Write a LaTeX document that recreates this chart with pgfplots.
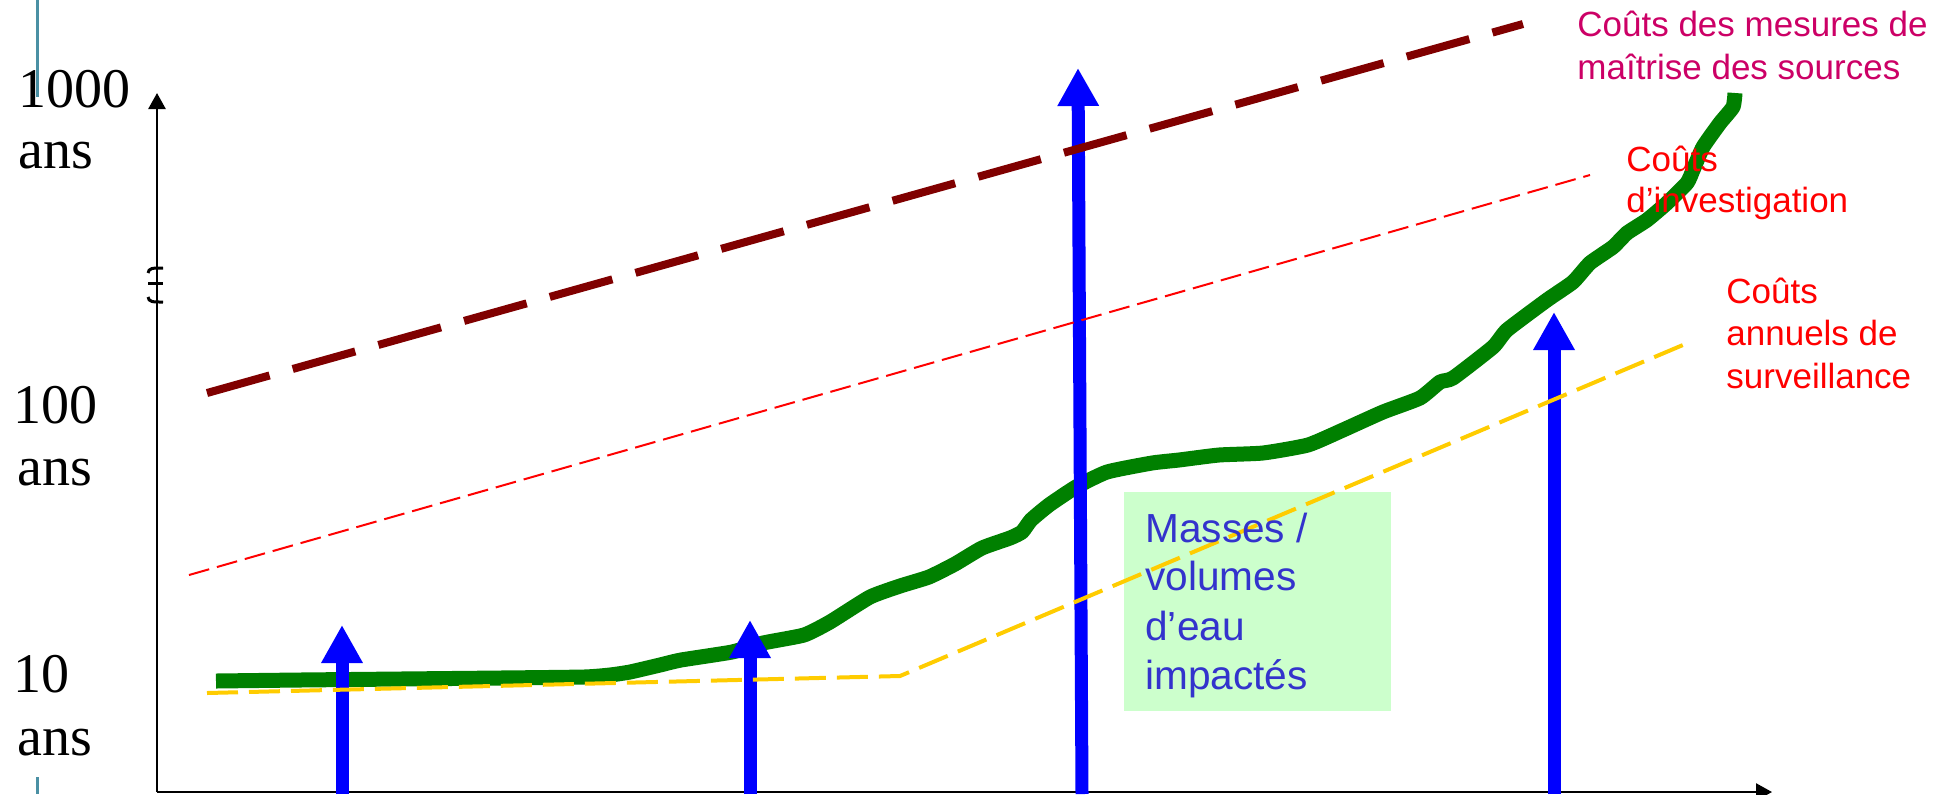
\documentclass[border=0pt]{standalone}
\usepackage{pgfplots}
\pgfplotsset{compat=1.18}
\usepackage{fontspec}
\setmainfont{Liberation Serif}
\newfontfamily\arial{Liberation Sans}
\usetikzlibrary{arrows.meta}

\definecolor{srcbrown}{HTML}{800000}
\definecolor{invred}{HTML}{FF0000}
\definecolor{survgold}{HTML}{FFCC00}
\definecolor{plumegreen}{HTML}{008000}
\definecolor{arrowblue}{HTML}{0000FF}
\definecolor{boxgreen}{HTML}{CCFFCC}
\definecolor{boxtext}{HTML}{3333CC}
\definecolor{srctext}{HTML}{CC0066}
\definecolor{tealmark}{HTML}{4A90A4}

\begin{document}
\begin{tikzpicture}
\begin{axis}[
  scale only axis,
  width=976.5pt, height=397pt,
  xmin=0, xmax=1953, ymin=0, ymax=794,
  y dir=reverse,
  hide axis,
  clip=false,
]
\coordinate (bl) at (axis cs:0,794);
\coordinate (tr) at (axis cs:1953,0);

% text box behind the curves
\fill[boxgreen] (axis cs:1124,492) rectangle (axis cs:1391,711);

% thin side marks
\addplot[tealmark, line width=1.5pt] coordinates {(37,0) (37,97)};
\addplot[tealmark, line width=1.5pt] coordinates {(37,777) (37,794)};

% axes
\addplot[black, line width=1.25pt, -{Triangle[width=8.5pt,length=8pt]}] coordinates {(157,792) (157,93)};
\addplot[black, line width=1.25pt, -{Triangle[width=8.5pt,length=8pt]}] coordinates {(157,792) (1772,792)};
% axis break
\draw[black, line width=1.5pt] (axis cs:148,273) .. controls (axis cs:149,268) and (axis cs:152,268) .. (axis cs:163,268);
\draw[black, line width=1.5pt] (axis cs:148,283) -- (axis cs:163,283);
\draw[black, line width=1.5pt] (axis cs:148,297) .. controls (axis cs:149,302) and (axis cs:152,302) .. (axis cs:163,302);

% remediation time curve
\addplot[plumegreen, line width=7.5pt, line join=round, smooth, tension=0.3] coordinates {
(216,681) (300,680) (400,679) (500,678) (584,677) (610,675) (630,672) (660,665)
(681,660) (732,652) (763,643) (804,635) (830,622) (870,597) (900,586) (929,577)
(955,564) (982,548) (1010,538) (1022,532) (1031,520) (1049,505) (1076,487)
(1107,472) (1152,463) (1179,460) (1219,455) (1263,453) (1308,445) (1343,430)
(1383,412) (1420,398) (1440,382) (1453,378) (1493,347) (1507,330) (1547,300)
(1573,282) (1590,263) (1613,247) (1627,233) (1647,220) (1667,203) (1687,183)
(1693,170) (1703,147) (1720,123) (1733,107) (1735,93)
};

% impacted masses / volumes
\addplot[arrowblue, line width=6.5pt, -{Triangle[width=19.5pt,length=19pt]}] coordinates {(342,794) (342,625)};
\addplot[arrowblue, line width=6.5pt, -{Triangle[width=19.5pt,length=19pt]}] coordinates {(750,794) (750,620)};
\addplot[arrowblue, line width=6.5pt, -{Triangle[width=19.5pt,length=19pt]}] coordinates {(1082,794) (1078,68)};
\addplot[arrowblue, line width=6.5pt, -{Triangle[width=19.5pt,length=19pt]}] coordinates {(1554,794) (1554,312)};

% annual monitoring costs
\addplot[survgold, line width=2pt, dash pattern=on 15.5pt off 5.5pt] coordinates {(207,693) (900,676) (1690,342)};
% investigation costs
\addplot[invred, line width=1pt, dash pattern=on 10.5pt off 4pt] coordinates {(189,575) (1590,175)};
% source control costs
\addplot[srcbrown, line width=4pt, dash pattern=on 32.5pt off 12pt] coordinates {(207,393) (1523,24)};

% y-axis labels
\begin{scope}[every node/.style={inner sep=0pt, anchor=base west, font=\fontsize{28}{34}\selectfont}]
\node at (axis cs:18,107) {1000};
\node at (axis cs:18,168) {ans};
\node at (axis cs:13,423) {100};
\node at (axis cs:17,485) {ans};
\node at (axis cs:13,692) {10};
\node at (axis cs:17,755) {ans};
\end{scope}

% curve labels
\begin{scope}[every node/.style={inner sep=0pt, anchor=base west, font=\arial\fontsize{17.5}{21}\selectfont}]
\node[text=srctext] at (axis cs:1577,36) {Coûts des mesures de};
\node[text=srctext] at (axis cs:1577,79) {maîtrise des sources};
\node[text=invred] at (axis cs:1626,171) {Coûts};
\node[text=invred] at (axis cs:1626,212) {d’investigation};
\node[text=invred] at (axis cs:1726,303) {Coûts};
\node[text=invred] at (axis cs:1726,345) {annuels de};
\node[text=invred] at (axis cs:1726,388) {surveillance};
\end{scope}

\begin{scope}[every node/.style={inner sep=0pt, anchor=base west, text=boxtext, font=\arial\fontsize{20.3}{24}\selectfont}]
\node at (axis cs:1145,542) {Masses /};
\node at (axis cs:1145,590) {volumes};
\node at (axis cs:1145,640) {d’eau};
\node at (axis cs:1145,689) {impactés};
\end{scope}
\end{axis}
\pgfresetboundingbox
\path (bl) rectangle (tr);
\end{tikzpicture}
\end{document}
